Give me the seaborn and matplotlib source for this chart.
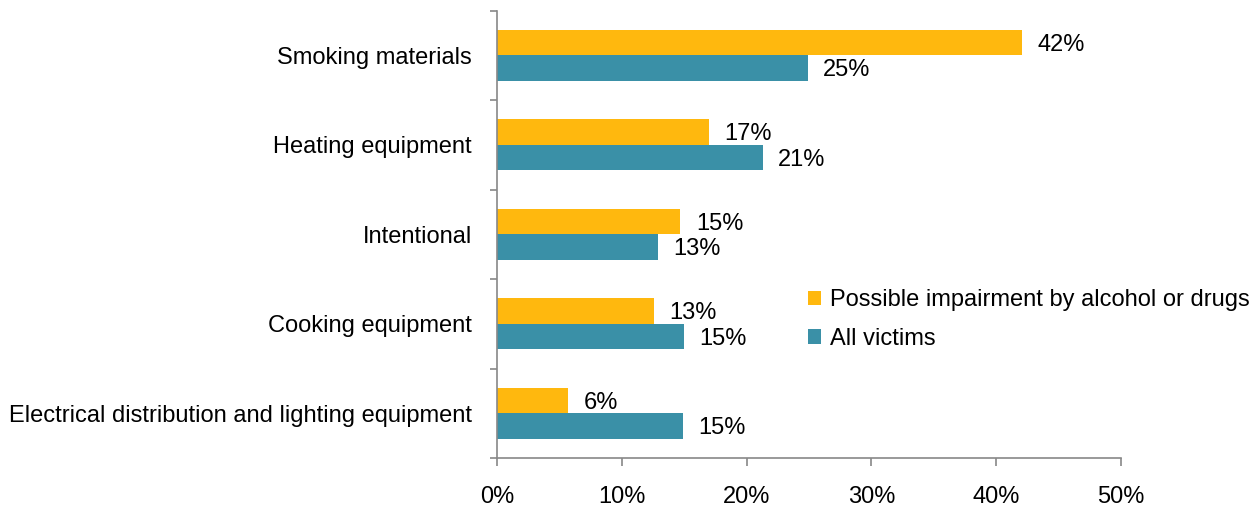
import matplotlib
matplotlib.use("Agg")
import matplotlib.pyplot as plt
from matplotlib.ticker import FuncFormatter, FixedLocator
import seaborn as sns
import pandas as pd

categories = [
    "Smoking materials",
    "Heating equipment",
    "Intentional",
    "Cooking equipment",
    "Electrical distribution and lighting equipment",
]
impaired = [42.1, 17.0, 14.7, 12.6, 5.7]
all_victims = [24.9, 21.3, 12.9, 15.0, 14.9]
series_names = ["Possible impairment by alcohol or drugs", "All victims"]
x_ticks = [0, 10, 20, 30, 40, 50]

colors = ["#FFB80E", "#3A90A7"]

df = pd.DataFrame({
    "cause": categories * 2,
    "share": impaired + all_victims,
    "group": [series_names[0]] * len(categories) + [series_names[1]] * len(categories),
})

sns.set_theme(style="white")
plt.rcParams["font.family"] = ["Liberation Sans", "DejaVu Sans"]
plt.rcParams["text.color"] = "black"

FS = 17

fig = plt.figure(figsize=(12.59, 5.07), dpi=100)
ax = fig.add_axes([0.3948, 0.0966, 0.4956, 0.8824])

sns.barplot(data=df, y="cause", x="share", hue="group", orient="h",
            palette=colors, width=0.57, saturation=1, ax=ax,
            order=categories, hue_order=series_names, edgecolor="none")

# value labels at the bar ends
for container in ax.containers:
    for bar in container:
        w = bar.get_width()
        yc = bar.get_y() + bar.get_height() / 2
        ax.annotate(f"{w:.0f}%", xy=(w, yc), xytext=(11, -1.5),
                    textcoords="offset points", ha="left", va="center",
                    fontsize=FS, color="black")

ax.set_xlim(0, 50)
ax.set_ylim(len(categories) - 0.5, -0.5)
ax.xaxis.set_major_locator(FixedLocator(x_ticks))
ax.xaxis.set_major_formatter(FuncFormatter(lambda v, p: f"{v:.0f}%"))
ax.set_xlabel("")
ax.set_ylabel("")

# category boundary ticks on the vertical axis
ax.yaxis.set_minor_locator(FixedLocator([i - 0.5 for i in range(len(categories) + 1)]))
ax.tick_params(axis="y", which="major", length=0, pad=18, labelsize=FS, labelcolor="black")
ax.tick_params(axis="y", which="minor", length=5, width=1.2, color="#888888", left=True)
ax.tick_params(axis="x", which="major", length=6, width=1.2, color="#888888",
               bottom=True, pad=14, labelsize=FS, labelcolor="black")

for side in ["top", "right"]:
    ax.spines[side].set_visible(False)
for side in ["left", "bottom"]:
    ax.spines[side].set_color("#888888")
    ax.spines[side].set_linewidth(1.2)

ax.grid(False)

leg = ax.legend(loc="upper left", bbox_to_anchor=(0.483, 0.398), frameon=False,
                fontsize=FS, handlelength=0.55, handleheight=0.55,
                handletextpad=0.4, labelspacing=0.7, borderaxespad=0)
for t in leg.get_texts():
    t.set_color("black")

fig.savefig("out.png", dpi=100)
